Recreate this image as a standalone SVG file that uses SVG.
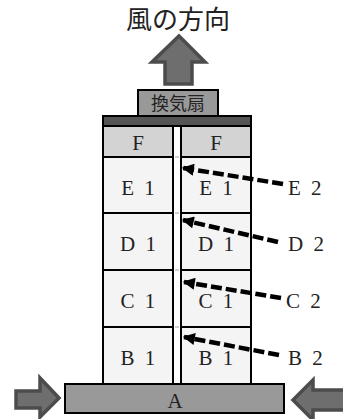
<svg xmlns="http://www.w3.org/2000/svg" width="343" height="419" viewBox="0 0 343 419">
<style>
.cell{fill:#f4f4f4;stroke:#000;stroke-width:2}
.fcell{fill:#d3d3d3;stroke:#000;stroke-width:2}
.lbl{font-family:"Liberation Serif",serif;font-size:21px;fill:#222;word-spacing:5px}
.mid{text-anchor:middle}
.jp{font-family:"Noto Sans CJK JP",sans-serif;fill:#222}
.big{fill:#6e6e6e;stroke:#4c4c4c;stroke-width:3.5;stroke-linejoin:miter}
.dash{fill:none;stroke:#000;stroke-width:4.5;stroke-dasharray:11 4}
.gapline{stroke:#cfcfcf;stroke-width:2}
</style>
<defs>
<marker id="ah" viewBox="0 0 10 10" refX="9" refY="5" markerWidth="13" markerHeight="12" markerUnits="userSpaceOnUse" orient="auto">
<path d="M0,0 L10,5 L0,10 z" fill="#000"/>
</marker>
</defs>
<rect width="343" height="419" fill="#fff"/>
<g id="title">
<text class="jp" x="178" y="29" font-size="26" text-anchor="middle">風の方向</text>
</g>
<g id="wind-up">
<polygon class="big" points="179,36 205,62 192,62 192,84 165,84 165,62 152,62"/>
</g>
<g id="fan">
<rect x="138" y="90" width="80" height="26" fill="#999" stroke="#000" stroke-width="2"/>
<text class="jp" x="178" y="110" font-size="18" text-anchor="middle">換気扇</text>
</g>
<g id="roof">
<rect x="103" y="116" width="148" height="10" fill="#555" stroke="#000" stroke-width="2"/>
</g>
<g id="gap">
<line class="gapline" x1="175" y1="157" x2="179" y2="157"/>
<line class="gapline" x1="175" y1="213" x2="179" y2="213"/>
<line class="gapline" x1="175" y1="270" x2="179" y2="270"/>
<line class="gapline" x1="175" y1="327" x2="179" y2="327"/>
</g>
<g id="F-left"><rect class="fcell" x="103" y="126" width="70" height="31"/><text class="lbl mid" x="138" y="150">F</text></g>
<g id="F-right"><rect class="fcell" x="181" y="126" width="70" height="31"/><text class="lbl mid" x="216" y="150">F</text></g>
<g id="E1-left"><rect class="cell" x="103" y="157" width="70" height="56"/><text class="lbl mid" x="138" y="195">E 1</text></g>
<g id="E1-right"><rect class="cell" x="181" y="157" width="70" height="56"/><text class="lbl mid" x="216" y="195">E 1</text></g>
<g id="D1-left"><rect class="cell" x="103" y="213" width="70" height="57"/><text class="lbl mid" x="138" y="251">D 1</text></g>
<g id="D1-right"><rect class="cell" x="181" y="213" width="70" height="57"/><text class="lbl mid" x="216" y="251">D 1</text></g>
<g id="C1-left"><rect class="cell" x="103" y="270" width="70" height="57"/><text class="lbl mid" x="138" y="308">C 1</text></g>
<g id="C1-right"><rect class="cell" x="181" y="270" width="70" height="57"/><text class="lbl mid" x="216" y="308">C 1</text></g>
<g id="B1-left"><rect class="cell" x="103" y="327" width="70" height="57"/><text class="lbl mid" x="138" y="365">B 1</text></g>
<g id="B1-right"><rect class="cell" x="181" y="327" width="70" height="57"/><text class="lbl mid" x="216" y="365">B 1</text></g>
<g id="A">
<rect x="65" y="384" width="219" height="29" fill="#999" stroke="#000" stroke-width="2"/>
<text class="lbl mid" x="175" y="408">A</text>
</g>
<g id="wind-left">
<polygon class="big" points="16,391 40,391 40,378 59,398 40,417 40,408 16,408"/>
</g>
<g id="wind-right">
<polygon class="big" points="345,390 313,390 313,380 293,400 313,420 313,410 345,410"/>
</g>
<g id="E2"><text class="lbl" x="288" y="195">E 2</text></g>
<g id="D2"><text class="lbl" x="288" y="251">D 2</text></g>
<g id="C2"><text class="lbl" x="286" y="308">C 2</text></g>
<g id="B2"><text class="lbl" x="288" y="365">B 2</text></g>
<g id="connectors">
<line class="dash" x1="283" y1="184" x2="183" y2="168" marker-end="url(#ah)"/>
<line class="dash" x1="278" y1="242" x2="183" y2="220" marker-end="url(#ah)"/>
<line class="dash" x1="281" y1="298" x2="184" y2="282" marker-end="url(#ah)"/>
<line class="dash" x1="279" y1="355" x2="184" y2="337" marker-end="url(#ah)"/>
</g>
</svg>
